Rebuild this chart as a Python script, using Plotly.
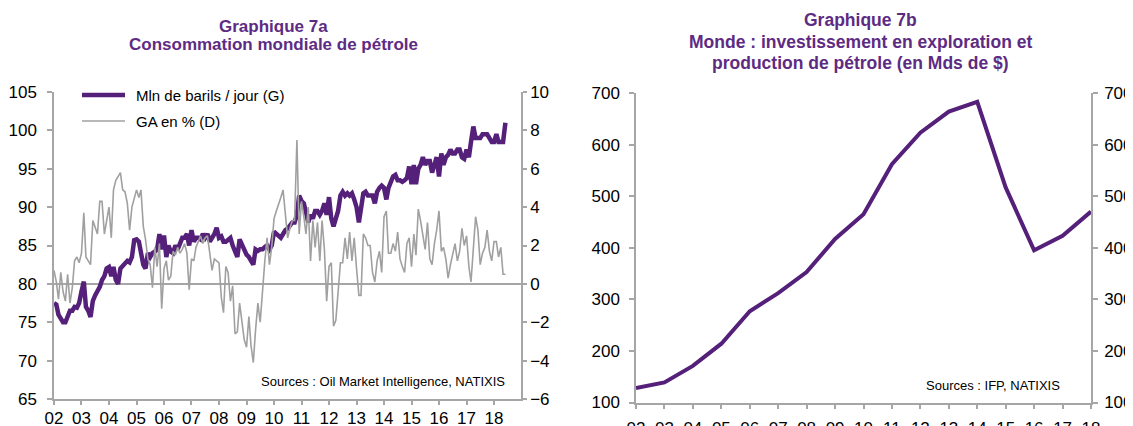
import pandas as pd
import plotly.graph_objects as go

# ---------------- DATA ----------------
# Graphique 7a : world oil consumption (Mb/d, left axis) and YoY growth (%, right axis), monthly 2002-01 .. 2018-06
cons_2002 = [77.5, 77.3, 76.0, 75.5, 75.0, 75.0, 75.8, 76.5, 76.5, 77.0, 76.9, 77.5]
cons_2003 = [79.0, 80.3, 77.0, 76.5, 75.7, 77.8, 78.5, 79.0, 79.6, 80.5, 81.0, 82.0]
cons_2004 = [82.2, 81.0, 82.2, 80.5, 80.0, 82.0, 82.3, 82.5, 83.0, 82.8, 83.5, 85.7]
cons_2005 = [85.8, 85.5, 84.0, 82.5, 82.0, 84.0, 83.5, 84.0, 84.2, 84.5, 86.5, 84.5]
cons_2006 = [86.3, 83.5, 85.0, 84.2, 84.0, 85.0, 84.5, 85.2, 86.0, 86.0, 86.5, 85.0]
cons_2007 = [87.0, 85.5, 86.0, 86.0, 85.8, 86.5, 86.0, 86.5, 85.5, 86.0, 86.5, 87.3]
cons_2008 = [86.0, 86.2, 85.5, 85.5, 85.8, 86.0, 85.0, 84.0, 83.5, 85.8, 85.0, 84.5]
cons_2009 = [83.8, 83.5, 83.0, 82.5, 84.5, 84.3, 84.5, 84.5, 84.8, 85.0, 84.5, 85.0]
cons_2010 = [86.8, 86.5, 86.2, 86.0, 86.5, 87.0, 87.2, 87.5, 88.0, 88.0, 89.0, 91.5]
cons_2011 = [90.8, 90.5, 89.5, 88.0, 89.0, 88.5, 89.5, 89.5, 89.0, 89.5, 90.5, 89.0]
cons_2012 = [91.3, 88.5, 87.5, 88.5, 89.5, 91.5, 92.0, 91.5, 91.8, 91.5, 91.8, 91.0]
cons_2013 = [90.0, 88.0, 89.5, 91.8, 92.0, 91.5, 91.5, 91.5, 90.5, 92.0, 92.5, 92.8]
cons_2014 = [92.5, 91.0, 92.5, 93.5, 94.0, 94.2, 93.5, 93.5, 93.3, 93.5, 93.8, 95.3]
cons_2015 = [93.0, 95.5, 93.0, 95.0, 95.5, 96.5, 95.5, 96.0, 96.0, 94.5, 95.5, 96.5]
cons_2016 = [94.0, 97.0, 95.5, 96.5, 96.8, 97.5, 97.0, 97.0, 97.5, 97.5, 96.5, 96.3]
cons_2017 = [97.5, 96.5, 98.5, 100.5, 99.0, 99.0, 99.0, 99.5, 99.5, 99.5, 99.0, 98.5]
cons_2018 = [98.5, 99.5, 98.5, 98.5, 98.5, 101.0]

ga_2002 = [0.7, 0.1, -0.8, 0.6, -0.4, -0.9, 0.5, -1.0, -0.2, 1.2, 1.4, 1.1]
ga_2003 = [1.6, 3.7, 1.4, 1.2, 1.0, 3.3, 3.0, 2.6, 4.3, 4.3, 2.6, 3.4]
ga_2004 = [4.0, 2.4, 4.9, 5.4, 5.6, 5.8, 4.9, 4.8, 4.2, 2.8, 4.0, 4.4]
ga_2005 = [4.9, 4.5, 4.9, 3.0, 2.3, 1.3, 1.0, -0.2, 1.9, 0.9, 2.1, -1.3]
ga_2006 = [0.8, 1.2, 0.2, 0.4, 1.7, 1.5, 1.9, 1.6, 1.8, 2.1, 1.6, -0.3]
ga_2007 = [1.3, 1.2, 1.9, 2.2, 2.5, 2.1, 2.4, 2.5, 1.6, 0.7, 1.3, 1.2]
ga_2008 = [1.1, -0.7, -1.5, 0.9, 0.6, -0.9, -0.1, -2.6, -2.5, -1.0, -2.1, -2.9]
ga_2009 = [-3.3, -1.7, -3.2, -4.1, -2.4, -1.0, -2.0, -0.1, 1.2, 2.4, 1.0, 1.9]
ga_2010 = [3.4, 3.8, 4.1, 4.5, 4.9, 3.4, 2.4, 2.9, 3.3, 3.3, 7.5, 2.6]
ga_2011 = [4.3, 3.5, 2.6, 4.0, 1.2, 3.3, 1.9, 3.2, 1.2, 3.3, 1.8, -0.9]
ga_2012 = [0.9, 1.1, -2.2, -1.9, -0.5, 1.1, 1.1, 2.4, 1.3, 2.7, 1.2, 2.4]
ga_2013 = [0.8, -0.6, -0.6, 2.6, 2.4, 2.0, 2.0, 0.6, 0.1, 1.2, 1.7, 0.6]
ga_2014 = [3.5, 3.8, 1.6, 1.6, 2.1, 1.7, 2.7, 1.3, 0.9, 0.6, 2.1, 2.4]
ga_2015 = [0.9, 2.6, 1.5, 3.9, 3.3, 2.6, 1.8, 3.2, 1.3, 1.0, 2.1, 2.8]
ga_2016 = [3.8, 1.7, 1.9, 1.3, 0.3, 1.0, 1.6, 2.1, 1.2, 1.7, 2.9, 2.0]
ga_2017 = [2.5, 0.9, 0.1, 1.7, 3.5, 2.8, 1.0, 1.6, 1.9, 2.8, 1.7, 1.2]
ga_2018 = [2.2, 2.2, 1.4, 1.9, 0.5, 0.5]

# Graphique 7b : world E&P investment (bn $), annual
invest_years = [2002, 2003, 2004, 2005, 2006, 2007, 2008, 2009, 2010,
                2011, 2012, 2013, 2014, 2015, 2016, 2017, 2018]
invest_values = [128, 139, 171, 214, 277, 312, 353, 417, 465,
                 562, 623, 664, 683, 517, 395, 423, 470]

# ---------------- BUILD ----------------
consumption = (cons_2002 + cons_2003 + cons_2004 + cons_2005 + cons_2006 + cons_2007 +
               cons_2008 + cons_2009 + cons_2010 + cons_2011 + cons_2012 + cons_2013 +
               cons_2014 + cons_2015 + cons_2016 + cons_2017 + cons_2018)
growth = (ga_2002 + ga_2003 + ga_2004 + ga_2005 + ga_2006 + ga_2007 + ga_2008 +
          ga_2009 + ga_2010 + ga_2011 + ga_2012 + ga_2013 + ga_2014 + ga_2015 +
          ga_2016 + ga_2017 + ga_2018)
months = pd.date_range("2002-01-01", periods=len(consumption), freq="MS")
invest_dates = [f"{y}-01-01" for y in invest_years]

# page body has an 8px margin: the figure is sized so that it ends at the window edge
OFF = 8
W, H = 1133 - OFF, 426 - OFF
def px(x):
    return (x - OFF) / W
def py(y):
    return 1 - (y - OFF) / H

PURPLE = "#55207a"
TITLE = "#5e2b83"
GREY = "#a0a0a0"
AXIS = "#a6a6a6"
FONT = "Liberation Sans, Arial, sans-serif"

fig = go.Figure()
fig.add_trace(go.Scatter(x=months, y=consumption, mode="lines", name="Mln de barils / jour (G)",
                         line=dict(color=PURPLE, width=4.5), xaxis="x", yaxis="y"))
fig.add_trace(go.Scatter(x=months, y=growth, mode="lines", name="GA en % (D)",
                         line=dict(color=GREY, width=1.6), xaxis="x", yaxis="y2"))
fig.add_trace(go.Scatter(x=invest_dates, y=invest_values, mode="lines", name="Investissement E&P",
                         line=dict(color=PURPLE, width=4), xaxis="x2", yaxis="y3"))
fig.add_trace(go.Scatter(x=invest_dates, y=invest_values, mode="lines", showlegend=False,
                         line=dict(color=PURPLE, width=0), opacity=0, hoverinfo="skip",
                         xaxis="x2", yaxis="y4"))

axis_common = dict(showline=True, linecolor=AXIS, linewidth=1.5, ticks="outside",
                   tickcolor=AXIS, tickwidth=1.5, ticklen=5, showgrid=False, zeroline=False,
                   automargin=False,
                   tickfont=dict(family=FONT, size=17, color="#000000"))

L_dom_x = [px(54), px(521)]
L_dom_y = [py(399), py(92)]
R_dom_x = [px(636), px(1091)]
R_dom_y = [py(402.5), py(93)]

fig.update_layout(
    template="none",
    width=W, height=H, margin=dict(l=0, r=0, t=0, b=0, pad=0, autoexpand=False),
    paper_bgcolor="white", plot_bgcolor="white", showlegend=False,
    font=dict(family=FONT),
    xaxis=dict(domain=L_dom_x, anchor="y", type="date",
               range=["2002-01-01", "2018-12-25"], dtick="M12", tick0="2002-01-01",
               tickformat="%y", ticklabelstandoff=-1,
               **{**axis_common, "ticklen": 4}),
    yaxis=dict(domain=L_dom_y, anchor="x", range=[65, 105], dtick=5,
               ticklabelstandoff=7, **axis_common),
    yaxis2=dict(overlaying="y", side="right", anchor="x", range=[-6, 10], dtick=2,
                ticklabelstandoff=0, **{**axis_common, "zeroline": True, "ticklen": 4},
                zerolinecolor=AXIS, zerolinewidth=1.5),
    xaxis2=dict(domain=R_dom_x, anchor="y3", type="date",
                range=["2002-01-01", "2018-01-01"], dtick="M12", tick0="2002-01-01",
                tickformat="%y", ticklabelstandoff=4, **axis_common),
    yaxis3=dict(domain=R_dom_y, anchor="x2", range=[100, 700], dtick=100,
                ticklabelstandoff=6, **axis_common),
    yaxis4=dict(overlaying="y3", side="right", anchor="x2", range=[100, 700], dtick=100,
                ticklabelstandoff=3, **axis_common),
)

annotations = []
def text(x, y, s, size, color="#000000", bold=False, xanchor="center"):
    annotations.append(dict(xref="paper", yref="paper", x=px(x), y=py(y), text=(f"<b>{s}</b>" if bold else s),
                            showarrow=False, xanchor=xanchor, yanchor="middle",
                            font=dict(family=FONT, size=size, color=color)))

text(273, 26, "Graphique 7a", 17, TITLE, True)
text(273, 44.5, "Consommation mondiale de pétrole", 17, TITLE, True)
text(860, 20, "Graphique 7b", 17.5, TITLE, True)
text(860, 41.5, "Monde : investissement en exploration et", 17.5, TITLE, True)
text(860, 63, "production de pétrole (en Mds de $)", 17.5, TITLE, True)
text(507, 381, "Sources : Oil Market Intelligence, NATIXIS", 13, xanchor="right")
text(1062, 385, "Sources : IFP, NATIXIS", 13, xanchor="right")
# legend texts
text(134, 95, "Mln de barils / jour (G)", 15, xanchor="left")
text(134, 121, "GA en % (D)", 15, xanchor="left")
fig.update_layout(annotations=annotations)

# legend samples
fig.add_shape(type="line", xref="paper", yref="paper", x0=px(82), x1=px(125), y0=py(95), y1=py(95),
              line=dict(color=PURPLE, width=4.5))
fig.add_shape(type="line", xref="paper", yref="paper", x0=px(82), x1=px(125), y0=py(121), y1=py(121),
              line=dict(color=GREY, width=1.6))

fig.write_html("out.html")
